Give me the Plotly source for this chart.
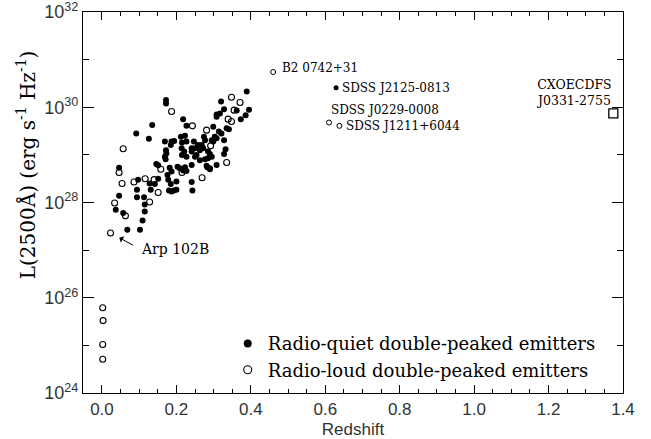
import numpy as np
import plotly.graph_objects as go

# ---------------- data (redshift, log10 L2500 [erg s^-1 Hz^-1]) ----------------
RQ_Z = [0.389, 0.320, 0.395, 0.328, 0.362, 0.308, 0.308, 0.317, 0.386, 0.373,
        0.299, 0.335, 0.341, 0.314, 0.321, 0.274, 0.277, 0.303, 0.308, 0.299,
        0.295, 0.328, 0.247, 0.258, 0.268, 0.250, 0.263, 0.272, 0.241, 0.254,
        0.285, 0.290, 0.295, 0.332, 0.328, 0.263, 0.277, 0.285, 0.250, 0.281,
        0.290, 0.308, 0.241, 0.172, 0.172, 0.218, 0.227, 0.135, 0.092, 0.126,
        0.212, 0.223, 0.169, 0.187, 0.194, 0.185, 0.215, 0.227, 0.172, 0.173,
        0.169, 0.171, 0.214, 0.221, 0.215, 0.227, 0.241, 0.146, 0.151, 0.182,
        0.203, 0.209, 0.223, 0.046, 0.187, 0.218, 0.227, 0.176, 0.178, 0.097,
        0.128, 0.151, 0.142, 0.185, 0.200, 0.241, 0.094, 0.131, 0.180, 0.187,
        0.193, 0.200, 0.243, 0.046, 0.094, 0.113, 0.115, 0.037, 0.057, 0.115,
        0.109, 0.068, 0.102, 0.283, 0.290]
RQ_LOGL = [30.33, 30.12, 29.95, 29.96, 29.93, 29.85, 29.80, 29.87, 29.83, 29.75,
           29.59, 29.56, 29.54, 29.49, 29.45, 29.38, 29.31, 29.38, 29.35, 29.28,
           29.31, 29.31, 29.28, 29.21, 29.21, 29.14, 29.10, 29.14, 29.07, 29.00,
           29.07, 29.02, 28.96, 29.12, 29.02, 28.89, 28.91, 28.93, 28.96, 28.77,
           28.72, 28.79, 28.79, 30.15, 30.08, 29.75, 29.61, 29.63, 29.45, 29.34,
           29.38, 29.40, 29.28, 29.28, 29.29, 29.21, 29.26, 29.28, 29.10, 29.03,
           28.96, 28.91, 29.14, 29.07, 29.00, 28.96, 29.14, 28.81, 28.78, 28.73,
           28.75, 28.72, 28.74, 28.73, 28.65, 28.67, 28.66, 28.58, 28.48, 28.48,
           28.40, 28.50, 28.39, 28.39, 28.44, 28.43, 28.27, 28.27, 28.25, 28.23,
           28.25, 28.27, 28.25, 28.14, 28.11, 28.11, 27.96, 27.85, 27.78, 27.81,
           27.62, 27.43, 27.43, 28.74, 28.70]

RL_Z = [0.348, 0.371, 0.355, 0.339, 0.348, 0.243, 0.281, 0.292, 0.335, 0.187,
        0.057, 0.158, 0.046, 0.215, 0.054, 0.086, 0.116, 0.140, 0.151, 0.128,
        0.034, 0.063, 0.269, 0.002, 0.003, 0.002, 0.002]
RL_LOGL = [30.21, 30.10, 29.94, 29.75, 29.70, 29.61, 29.52, 29.19, 28.84, 29.91,
           29.13, 28.70, 28.63, 28.63, 28.40, 28.43, 28.50, 28.48, 28.21, 28.01,
           27.99, 27.72, 28.52, 25.79, 25.52, 25.02, 24.71]

# Arp 102B (radio-loud, labelled with an arrow)
ARP_NAME = "Arp 102B"
ARP_Z = 0.023
ARP_LOGL = 27.36

# labelled objects
NAMED = ["B2 0742+31", "SDSS J2125-0813", "SDSS J0229-0008", "SDSS J1211+6044"]
NAMED_Z = [0.460, 0.629, 0.610, 0.638]
NAMED_LOGL = [30.74, 30.41, 29.68, 29.61]
NAMED_LOUD = [True, False, True, True]

# CXOECDFS J0331-2755
CXO_LABEL = "CXOECDFS<br>J0331-2755"
CXO_Z = 1.374
CXO_LOGL = 29.87

LEGEND_NAMES = ["Radio-quiet double-peaked emitters", "Radio-loud double-peaked emitters"]
Y_EXP = [24, 26, 28, 30, 32]
Y_MINOR_EXP = [25, 27, 29, 31]

SERIF = "DejaVu Serif"
SANS = "Liberation Sans, Arial, sans-serif"

fig = go.Figure()

fig.add_trace(go.Scatter(
    x=RQ_Z, y=10 ** np.array(RQ_LOGL), mode="markers", showlegend=False,
    marker=dict(symbol="circle", size=6, color="black", line=dict(width=0))))
fig.add_trace(go.Scatter(
    x=RL_Z + [ARP_Z], y=10 ** np.array(RL_LOGL + [ARP_LOGL]), mode="markers", showlegend=False,
    marker=dict(symbol="circle-open", size=6, color="black", line=dict(width=1.1))))

nz = np.array(NAMED_Z)
nl = np.array(NAMED_LOGL)
loud = np.array(NAMED_LOUD)
fig.add_trace(go.Scatter(
    x=nz[loud], y=10 ** nl[loud], mode="markers", showlegend=False,
    marker=dict(symbol="circle-open", size=5, color="black", line=dict(width=1))))
fig.add_trace(go.Scatter(
    x=nz[~loud], y=10 ** nl[~loud], mode="markers", showlegend=False,
    marker=dict(symbol="circle", size=5, color="black")))
fig.add_trace(go.Scatter(
    x=[CXO_Z], y=[10 ** CXO_LOGL], mode="markers", showlegend=False,
    marker=dict(symbol="square-open", size=9, color="black", line=dict(width=1.3))))

# legend entries
fig.add_trace(go.Scatter(x=[None], y=[None], mode="markers", name=LEGEND_NAMES[0],
                         marker=dict(symbol="circle", size=8, color="black")))
fig.add_trace(go.Scatter(x=[None], y=[None], mode="markers", name=LEGEND_NAMES[1],
                         marker=dict(symbol="circle-open", size=8, color="black",
                                     line=dict(width=1.1))))

annos = []
shifts = [(7, 4), (4, 0), (0, 13), (5, 0)]
for name, z, lg, (dx, dy) in zip(NAMED, NAMED_Z, NAMED_LOGL, shifts):
    annos.append(dict(x=z, y=lg, xref="x", yref="y", text=name, showarrow=False,
                      xanchor="left", yanchor="middle", xshift=dx, yshift=dy,
                      font=dict(family=SERIF, size=12, color="black")))
# CXO label (two lines)
annos.append(dict(x=CXO_Z, y=CXO_LOGL, xref="x", yref="y", text=CXO_LABEL, showarrow=False,
                  xanchor="center", yanchor="middle", xshift=-39, yshift=21,
                  font=dict(family=SERIF, size=12.5, color="black")))
# Arp 102B arrow + text
annos.append(dict(x=ARP_Z, y=ARP_LOGL, xref="x", yref="y", text="", showarrow=True,
                  ax=24, ay=13, standoff=10, arrowhead=1, arrowsize=1.2, arrowwidth=1,
                  arrowcolor="black"))
annos.append(dict(x=ARP_Z, y=ARP_LOGL, xref="x", yref="y", text=ARP_NAME, showarrow=False,
                  xanchor="left", yanchor="middle", xshift=28, yshift=-16,
                  font=dict(family=SERIF, size=14, color="black")))
# y-axis title
annos.append(dict(x=-0.104, y=0.60, xref="paper", yref="paper",
                  text="L(2500Å) (erg s<sup>-1</sup> Hz<sup>-1</sup>)", textangle=-90,
                  showarrow=False, xanchor="center", yanchor="middle",
                  font=dict(family=SERIF, size=20, color="black")))

fig.update_layout(
    width=651, height=439, autosize=False,
    margin=dict(l=83, r=28, t=12, b=46),
    paper_bgcolor="white", plot_bgcolor="white",
    annotations=annos,
    legend=dict(x=0.268, y=0.178, xanchor="left", yanchor="top",
                bgcolor="rgba(0,0,0,0)", borderwidth=0,
                font=dict(family=SERIF, size=18, color="black"),
                itemwidth=30, tracegroupgap=0),
    xaxis=dict(range=[-0.051, 1.40], tick0=0, dtick=0.2, tickformat=".1f",
               ticks="inside", ticklen=8, tickwidth=1, tickcolor="black",
               showline=True, linecolor="black", linewidth=1.3, mirror="ticks",
               showgrid=False, zeroline=False, automargin=False,
               minor=dict(dtick=0.05, ticks="inside", ticklen=4, tickcolor="black", showgrid=False),
               tickfont=dict(family=SANS, size=17, color="#333"),
               title=dict(text="Redshift", font=dict(family=SANS, size=17, color="#333"), standoff=9)),
    yaxis=dict(type="log", range=[24, 32.0005], tickmode="array",
               tickvals=[10.0 ** e for e in Y_EXP],
               ticktext=[f"10<sup>{e}</sup>" for e in Y_EXP],
               ticklabeloverflow="allow",
               ticks="inside", ticklen=11, tickwidth=1, tickcolor="black",
               showline=True, linecolor="black", linewidth=1.3, mirror="ticks",
               showgrid=False, zeroline=False, automargin=False,
               minor=dict(tickmode="array", tickvals=[10.0 ** e for e in Y_MINOR_EXP],
                          ticks="inside", ticklen=6, tickcolor="black", showgrid=False),
               tickfont=dict(family=SANS, size=18, color="#333")),
)

fig.write_html("out.html")
